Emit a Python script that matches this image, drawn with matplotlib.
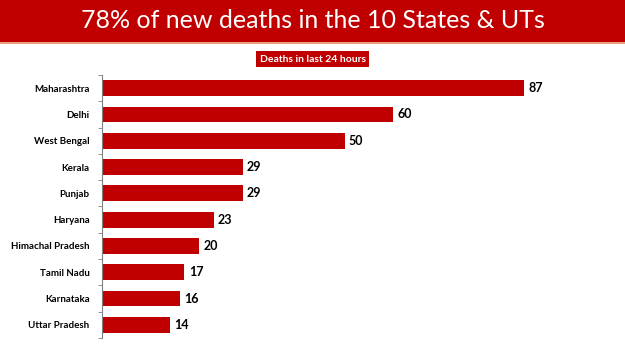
import matplotlib
matplotlib.use("Agg")
import matplotlib.pyplot as plt
from matplotlib.patches import Rectangle

states = ["Maharashtra", "Delhi", "West Bengal", "Kerala", "Punjab", "Haryana",
          "Himachal Pradesh", "Tamil Nadu", "Karnataka", "Uttar Pradesh"]
deaths = [87, 60, 50, 29, 29, 23, 20, 17, 16, 14]

title = "78% of new deaths in the 10 States & UTs"
subtitle = "Deaths in last 24 hours"
red = "#C00000"

plt.rcParams["font.family"] = ["Lato", "DejaVu Sans"]

fig = plt.figure(figsize=(6.25, 3.51), dpi=100)
fig.patch.set_facecolor("white")

# title banner
fig.patches.append(Rectangle((0, 1 - 42 / 351), 1, 42 / 351, transform=fig.transFigure,
                             facecolor=red, edgecolor="none"))
fig.patches.append(Rectangle((0, 1 - 44 / 351), 1, 2 / 351, transform=fig.transFigure,
                             facecolor="#E8A080", edgecolor="none"))
fig.text(0.5, 1 - 21 / 351, title, color="white", fontsize=18, ha="center", va="center")

fig.text(0.5, 1 - 59 / 351, subtitle, color="white", fontsize=7.5, fontweight="bold",
         ha="center", va="center",
         bbox=dict(boxstyle="square,pad=0.35", facecolor=red, edgecolor="none"))

ax = fig.add_axes([102 / 625, 13 / 351, 485 / 625, 263 / 351])
y = list(range(len(states)))
bars = ax.barh(y, deaths, height=0.6, color=red)
ax.set_ylim(len(states) - 0.5, -0.5)
ax.set_xlim(0, 100)

for yi, v in zip(y, deaths):
    ax.text(v + 0.9, yi, str(v), va="center", ha="left", fontsize=9, fontweight="bold")

ax.set_yticks(y)
ax.set_yticklabels(states, fontsize=7, fontweight="bold")
ax.tick_params(axis="y", which="major", length=0, pad=9)
ax.set_yticks([i - 0.5 for i in range(len(states) + 1)], minor=True)
ax.tick_params(axis="y", which="minor", length=3, color="#808080")
ax.set_xticks([])
for s in ["top", "right", "bottom"]:
    ax.spines[s].set_visible(False)
ax.spines["left"].set_color("#808080")
ax.spines["left"].set_linewidth(0.8)

fig.savefig("out.png", dpi=100)
